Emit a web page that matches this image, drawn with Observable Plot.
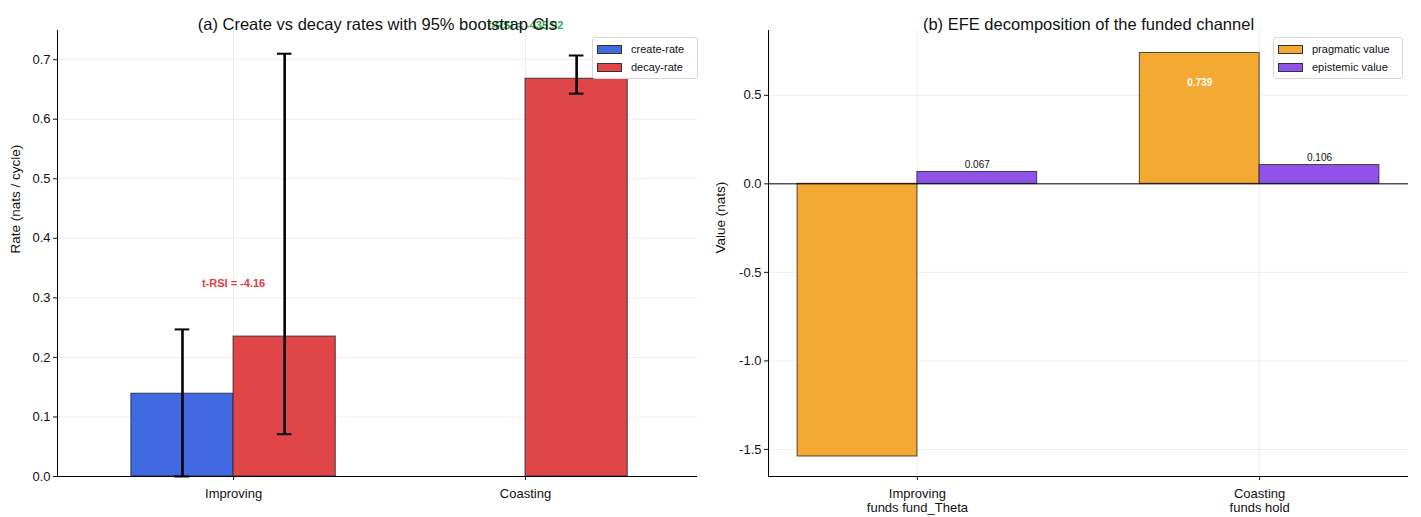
<!DOCTYPE html>
<html>
<head>
<meta charset="utf-8">
<script src="https://cdn.jsdelivr.net/npm/d3@7"></script>
<script src="https://cdn.jsdelivr.net/npm/@observablehq/plot@0.6"></script>
<style>
  body { margin: 0; background: #fff; font-family: "Liberation Sans", Arial, sans-serif; }
  #wrap { position: relative; width: 1421px; height: 517px; display: flex; }
  .legend { position: absolute; background: rgba(255,255,255,0.85); border: 1px solid #d8d8d8;
            border-radius: 3px; box-sizing: border-box; padding: 2px 6px 2px 4px; font-size: 11px; color: #111; }
  .legend .row { display: flex; align-items: center; height: 18px; }
  .legend .sw { width: 25px; height: 9px; border: 1px solid #333; margin-right: 9px; box-sizing: border-box; }
</style>
</head>
<body>
<div id="wrap"></div>
<script>
// ---- Panel (a): create vs decay rates ----
const conditions = ["Improving", "Coasting"];
const createRate = [0.139, 0.0];
const createLo   = [0.0, null];
const createHi   = [0.247, null];
const decayRate  = [0.235, 0.668];
const decayLo    = [0.071, 0.643];
const decayHi    = [0.710, 0.707];
const tRsi       = [-4.16, -435.92];
const rateTicks  = [0, 0.1, 0.2, 0.3, 0.4, 0.5, 0.6, 0.7];

// ---- Panel (b): EFE decomposition ----
const efeLabels  = ["Improving\nfunds fund_Theta", "Coasting\nfunds hold"];
const pragmatic  = [-1.54, 0.739];
const epistemic  = [0.067, 0.106];
const valueTicks = [-1.5, -1.0, -0.5, 0.0, 0.5];

const FONT = "Liberation Sans, Arial, Helvetica, sans-serif";
const C_CREATE = "#4169e1", C_DECAY = "#e04648";
const C_PRAG = "#f4aa32", C_EPI = "#8f53ec";
const fmt1 = d => d.toFixed(1);

const wrap = document.getElementById("wrap");

// Panel (a): bars of width 0.35 either side of each condition
const barW = 0.35;
const xA = [-0.603, 1.589], yA = [0, 0.749];
const rowsA = conditions.map((c, i) => ({
  c, i, create: createRate[i], decay: decayRate[i],
  cLo: createLo[i], cHi: createHi[i], dLo: decayLo[i], dHi: decayHi[i], t: tRsi[i]
}));
const errA = [];
rowsA.forEach(r => {
  if (r.cLo != null) errA.push({x: r.i - barW / 2, lo: r.cLo, hi: r.cHi});
  if (r.dLo != null) errA.push({x: r.i + barW / 2, lo: r.dLo, hi: r.dHi});
});
const capA = errA.flatMap(e => [{x: e.x, y: e.lo}, {x: e.x, y: e.hi}]);
const capHalf = 0.025;

const plotA = Plot.plot({
  width: 710, height: 517,
  marginLeft: 57, marginRight: 13, marginTop: 30, marginBottom: 41,
  style: {fontFamily: FONT, fontSize: "13px", background: "white", overflow: "visible", color: "#111"},
  x: {domain: xA},
  y: {domain: yA},
  marks: [
    Plot.gridY(rateTicks, {stroke: "#000", strokeOpacity: 0.07}),
    Plot.gridX([0, 1], {stroke: "#000", strokeOpacity: 0.07}),
    Plot.rect(rowsA.filter(r => r.create > 0), {x1: r => r.i - barW, x2: r => r.i, y1: 0, y2: "create",
      fill: C_CREATE, stroke: "#222", strokeWidth: 1, strokeOpacity: 0.8}),
    Plot.rect(rowsA, {x1: r => r.i, x2: r => r.i + barW, y1: 0, y2: "decay",
      fill: C_DECAY, stroke: "#222", strokeWidth: 1, strokeOpacity: 0.8}),
    Plot.ruleX(errA, {x: "x", y1: "lo", y2: "hi", stroke: "#000", strokeWidth: 2.6}),
    Plot.ruleY(capA, {x1: d => d.x - capHalf, x2: d => d.x + capHalf, y: "y", stroke: "#000", strokeWidth: 2}),
    Plot.text(rowsA, {
      x: "i",
      y: r => Math.max(r.create, r.decay) + 0.09,
      text: r => `t-RSI = ${r.t.toFixed(2)}`,
      fill: r => r.i === 0 ? "#e03a3a" : "#2aa952",
      fontWeight: "bold", fontSize: 11
    }),
    Plot.ruleX([xA[0]], {stroke: "#000", strokeWidth: 1}),
    Plot.ruleY([0], {stroke: "#000", strokeWidth: 1}),
    Plot.axisY(rateTicks, {tickFormat: fmt1, tickSize: 4, tickPadding: 3, label: null, fontSize: 13}),
    Plot.axisX([0, 1], {tickFormat: i => conditions[i], tickSize: 4, tickPadding: 8, label: null, fontSize: 13}),
    Plot.text(["Rate (nats / cycle)"], {frameAnchor: "left", rotate: -90, dx: -42, fontSize: 13.5}),
    Plot.text(["(a) Create vs decay rates with 95% bootstrap CIs"], {frameAnchor: "top", dy: -12, fontSize: 16.5})
  ]
});

// Panel (b)
const xB = [-0.435, 1.435], yB = [-1.653, 0.866];
const rowsB = efeLabels.map((c, i) => ({c, i, prag: pragmatic[i], epi: epistemic[i]}));

const plotB = Plot.plot({
  width: 711, height: 517,
  marginLeft: 58, marginRight: 13, marginTop: 30, marginBottom: 41,
  style: {fontFamily: FONT, fontSize: "13px", background: "white", overflow: "visible", color: "#111"},
  x: {domain: xB},
  y: {domain: yB},
  marks: [
    Plot.gridY(valueTicks, {stroke: "#000", strokeOpacity: 0.07}),
    Plot.gridX([0, 1], {stroke: "#000", strokeOpacity: 0.07}),
    Plot.rect(rowsB, {x1: r => r.i - 0.35, x2: r => r.i, y1: 0, y2: "prag",
      fill: C_PRAG, stroke: "#222", strokeWidth: 1, strokeOpacity: 0.8}),
    Plot.rect(rowsB, {x1: r => r.i, x2: r => r.i + 0.35, y1: 0, y2: "epi",
      fill: C_EPI, stroke: "#222", strokeWidth: 1, strokeOpacity: 0.8}),
    Plot.ruleY([0], {stroke: "#000", strokeWidth: 1}),
    Plot.text(rowsB, {x: r => r.i + 0.175, y: "epi", text: r => r.epi.toFixed(3),
      dy: -7, fontSize: 10, fill: "#111"}),
    Plot.text(rowsB.filter(r => r.prag > 0), {x: r => r.i - 0.175, y: r => r.prag * 0.775,
      text: r => r.prag.toFixed(3), fill: "white", fontWeight: "bold", fontSize: 10}),
    Plot.ruleX([xB[0]], {stroke: "#000", strokeWidth: 1}),
    Plot.ruleY([yB[0]], {stroke: "#000", strokeWidth: 1}),
    Plot.axisY(valueTicks, {tickFormat: fmt1, tickSize: 4, tickPadding: 3, label: null, fontSize: 13}),
    Plot.axisX([0, 1], {tickFormat: i => efeLabels[i], tickSize: 4, tickPadding: 8, label: null,
      fontSize: 13, lineHeight: 1.05}),
    Plot.text(["Value (nats)"], {frameAnchor: "left", rotate: -90, dx: -48, fontSize: 13.5}),
    Plot.text(["(b) EFE decomposition of the funded channel"], {frameAnchor: "top", dy: -12, fontSize: 16.5})
  ]
});

wrap.appendChild(plotA);
wrap.appendChild(plotB);

// Legends
function legend(items, left, top, width) {
  const el = document.createElement("div");
  el.className = "legend";
  el.style.left = left + "px";
  el.style.top = top + "px";
  el.style.width = width + "px";
  for (const [label, color] of items) {
    const row = document.createElement("div");
    row.className = "row";
    const sw = document.createElement("div");
    sw.className = "sw";
    sw.style.background = color;
    const tx = document.createElement("span");
    tx.textContent = label;
    row.appendChild(sw);
    row.appendChild(tx);
    el.appendChild(row);
  }
  wrap.appendChild(el);
}
legend([["create-rate", C_CREATE], ["decay-rate", C_DECAY]], 592, 37, 106);
legend([["pragmatic value", C_PRAG], ["epistemic value", C_EPI]], 1273, 37, 130);
</script>
</body>
</html>
